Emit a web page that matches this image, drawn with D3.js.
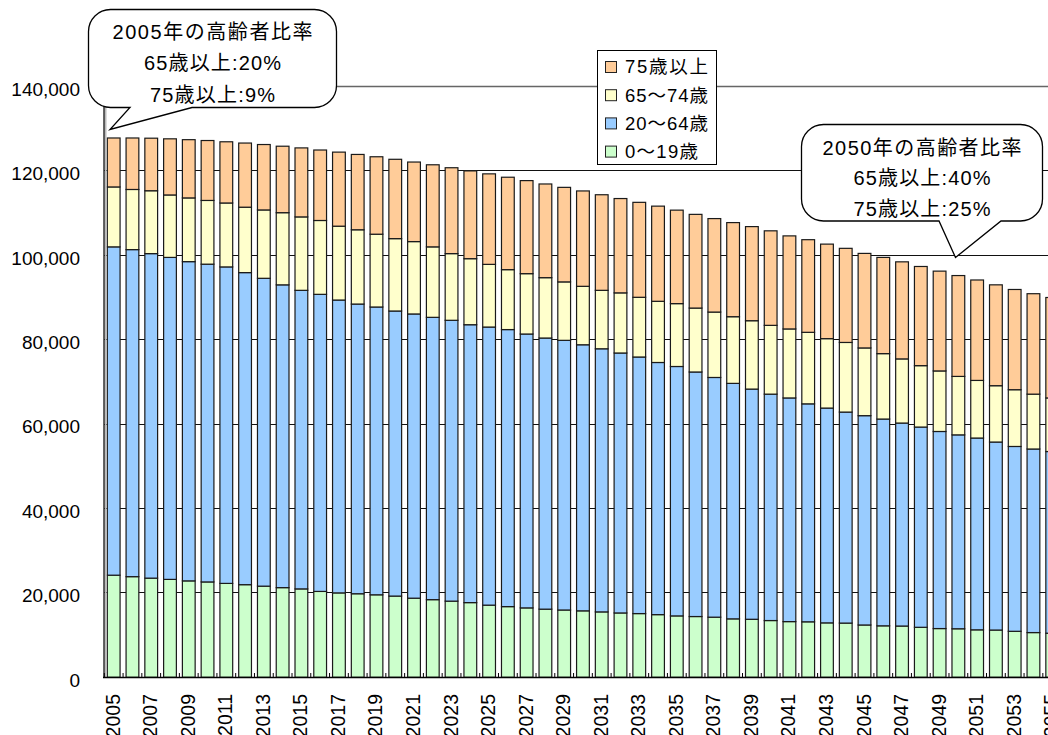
<!DOCTYPE html>
<html>
<head>
<meta charset="utf-8">
<script src="https://cdn.jsdelivr.net/npm/d3@7"></script>
<style>
  body { margin: 0; background: #fff; }
  svg { display: block; }
  text { font-family: "Liberation Sans", Arial, "Noto Sans CJK JP", sans-serif; fill: #000; }
</style>
</head>
<body>
<svg id="chart" width="1048" height="735"></svg>
<script>
// 年次（2005〜2055）
const years = [2005, 2006, 2007, 2008, 2009, 2010, 2011, 2012, 2013, 2014,
               2015, 2016, 2017, 2018, 2019, 2020, 2021, 2022, 2023, 2024,
               2025, 2026, 2027, 2028, 2029, 2030, 2031, 2032, 2033, 2034,
               2035, 2036, 2037, 2038, 2039, 2040, 2041, 2042, 2043, 2044,
               2045, 2046, 2047, 2048, 2049, 2050, 2051, 2052, 2053, 2054, 2055];

// 年齢階級別人口（千人）
const age0to19 = [24200, 23850, 23500, 23200, 22850, 22600, 22250, 21950, 21600, 21250,
                  20950, 20350, 20000, 19800, 19550, 19250, 18750, 18400, 18050, 17700,
                  17100, 16750, 16450, 16150, 15950, 15750, 15500, 15250, 15100, 14850,
                  14550, 14400, 14250, 13850, 13750, 13450, 13200, 13150, 12900, 12850,
                  12400, 12200, 12150, 11850, 11550, 11500, 11250, 11200, 10900, 10600, 10450];
const age20to64 = [77800, 77500, 76900, 76300, 75650, 75300, 75000, 73950, 72950, 71750,
                   70750, 70400, 69400, 68650, 68200, 67550, 67350, 66900, 66550, 65850,
                   65900, 65650, 64900, 64250, 63900, 63050, 62350, 61600, 60800, 59750,
                   59100, 57950, 56800, 55800, 54550, 53650, 53000, 51650, 50900, 50000,
                   49600, 49000, 48100, 47450, 46700, 45950, 45450, 44550, 43800, 43500, 43050];
const age65to74 = [14200, 14250, 14900, 14800, 15100, 15100, 15150, 15500, 16200, 17100,
                   17400, 17500, 17500, 17600, 17250, 17150, 17150, 16700, 15800, 15650,
                   14850, 14200, 14300, 14300, 13850, 13850, 13850, 14250, 14150, 14500,
                   14900, 15150, 15500, 15800, 16200, 16300, 16350, 16950, 16450, 16500,
                   16050, 15500, 15200, 14550, 14350, 13850, 13650, 13350, 13450, 13000, 12700];
const age75plus = [11600, 12200, 12450, 13300, 13800, 14200, 14500, 15200, 15500, 15750,
                   16350, 16700, 17550, 17850, 18350, 18800, 18850, 19450, 20350, 20800,
                   21450, 21900, 22050, 22200, 22400, 22600, 22650, 22350, 22500, 22550,
                   22150, 22200, 22150, 22300, 22300, 22400, 22050, 21950, 22400, 22300,
                   22400, 22800, 23000, 23500, 23650, 23900, 23800, 23900, 23750, 23800, 23800];

// 系列名と凡例表示（下から積み上げ）
const seriesKeys = ["a0", "a20", "a65", "a75"];
const seriesNames = ["0～19歳", "20～64歳", "65～74歳", "75歳以上"];
const seriesColors = ["#CCFFCC", "#99CCFF", "#FFFFCC", "#FFCC99"];

// 目盛り
const yTicks = [0, 20000, 40000, 60000, 80000, 100000, 120000, 140000];
const xLabelYears = years.filter((d, i) => i % 2 === 0);

// 吹き出しの文言
const note2005 = ["2005年の高齢者比率", "65歳以上:20%", "75歳以上:9%"];
const note2050 = ["2050年の高齢者比率", "65歳以上:40%", "75歳以上:25%"];

const rows = years.map((yr, i) => ({
  year: yr, a0: age0to19[i], a20: age20to64[i], a65: age65to74[i], a75: age75plus[i]
}));

const svg = d3.select("#chart");
const W = 1048;

const x = d3.scaleBand()
  .domain(years)
  .range([104.3, 1061.6])
  .paddingInner(0.32)
  .paddingOuter(0.16);

const y = d3.scaleLinear().domain([0, 140000]).range([677.3, 86.5]);
const crisp = v => Math.round(v) + 0.5;

// 目盛り線
svg.append("g").selectAll("line")
  .data(yTicks.filter(t => t > 0))
  .join("line")
  .attr("x1", 104).attr("x2", W)
  .attr("y1", d => crisp(y(d) - 0.5)).attr("y2", d => crisp(y(d) - 0.5))
  .attr("stroke", d => d === 140000 ? "#666" : "#111")
  .attr("stroke-width", d => d === 140000 ? 1.5 : 1);

// 積み上げ棒
const stacked = d3.stack().keys(seriesKeys)(rows);
svg.append("g").selectAll("g")
  .data(stacked)
  .join("g")
  .attr("fill", (d, i) => seriesColors[i])
  .selectAll("rect")
  .data(d => d)
  .join("rect")
  .attr("x", d => x(d.data.year))
  .attr("width", x.bandwidth())
  .attr("y", d => y(d[1]))
  .attr("height", d => y(d[0]) - y(d[1]))
  .attr("stroke", "#1a1a1a")
  .attr("stroke-width", 1.2);

// 縦軸
svg.append("line")
  .attr("x1", 105.5).attr("x2", 105.5).attr("y1", 86).attr("y2", 678)
  .attr("stroke", "#bbb").attr("stroke-width", 2);
svg.append("line")
  .attr("x1", 104).attr("x2", 104).attr("y1", 86).attr("y2", 678)
  .attr("stroke", "#000").attr("stroke-width", 1.2);

svg.append("g").selectAll("text")
  .data(yTicks)
  .join("text")
  .attr("x", 80)
  .attr("y", d => y(d) + 9.3)
  .attr("text-anchor", "end")
  .attr("font-size", 19)
  .text(d => d3.format(",")(d));

// 横軸
svg.append("line")
  .attr("x1", 103).attr("x2", W).attr("y1", 677.5).attr("y2", 677.5)
  .attr("stroke", "#000").attr("stroke-width", 1.5);

const gap = x.step() * x.paddingInner() / 2;
svg.append("g").selectAll("line")
  .data(years)
  .join("line")
  .attr("x1", d => x(d) - gap).attr("x2", d => x(d) - gap)
  .attr("y1", 673).attr("y2", 678)
  .attr("stroke", "#000").attr("stroke-width", 1);

svg.append("g").selectAll("text")
  .data(xLabelYears)
  .join("text")
  .attr("transform", d => `translate(${x(d) + x.bandwidth() / 2},694) rotate(-90)`)
  .attr("dy", 6)
  .attr("text-anchor", "end")
  .attr("font-size", 19.5)
  .text(d => d);

// 凡例
const legend = svg.append("g");
legend.append("rect")
  .attr("x", 597.5).attr("y", 50.5).attr("width", 119).attr("height", 114)
  .attr("fill", "#fff").attr("stroke", "#000").attr("stroke-width", 1);
const legendOrder = [3, 2, 1, 0];
const legendWidths = [83, 83, 83, 73];
legendOrder.forEach((si, k) => {
  const cy = 67 + k * 28.2;
  legend.append("rect")
    .attr("x", 605.5).attr("y", cy - 5.5).attr("width", 11).attr("height", 11)
    .attr("fill", seriesColors[si]).attr("stroke", "#222").attr("stroke-width", 1);
  legend.append("text")
    .attr("x", 625).attr("y", cy + 6.3)
    .attr("font-size", 18.5)
    .attr("textLength", legendWidths[k])
    .attr("lengthAdjust", "spacing")
    .text(seriesNames[si]);
});

// 吹き出し
function callout(box, tip, baseL, baseR, lines, baselines, widths) {
  const { left, top, right, bottom } = box;
  const r = 22;
  const p = d3.path();
  p.moveTo(left + r, top);
  p.lineTo(right - r, top);
  p.arcTo(right, top, right, top + r, r);
  p.lineTo(right, bottom - r);
  p.arcTo(right, bottom, right - r, bottom, r);
  p.lineTo(baseR, bottom);
  p.lineTo(tip[0], tip[1]);
  p.lineTo(baseL, bottom);
  p.lineTo(left + r, bottom);
  p.arcTo(left, bottom, left, bottom - r, r);
  p.lineTo(left, top + r);
  p.arcTo(left, top, left + r, top, r);
  p.closePath();
  const g = svg.append("g");
  g.append("path").attr("d", p.toString())
    .attr("fill", "#fff").attr("stroke", "#000").attr("stroke-width", 1.3);
  const cx = (left + right) / 2;
  lines.forEach((t, i) => {
    g.append("text")
      .attr("x", cx - widths[i] / 2).attr("y", baselines[i])
      .attr("font-size", 20)
      .attr("textLength", widths[i])
      .attr("lengthAdjust", "spacing")
      .text(t);
  });
}

callout({ left: 88.5, top: 9.5, right: 336.5, bottom: 107.5 },
        [110, 129.5], 130, 192, note2005, [39.3, 70.3, 101.5], [200, 137, 125]);
callout({ left: 801.5, top: 124.5, right: 1042.5, bottom: 221 },
        [955.5, 257.5], 939, 1001, note2050, [155.3, 185.3, 215.5], [199, 137, 137]);
</script>
</body>
</html>
